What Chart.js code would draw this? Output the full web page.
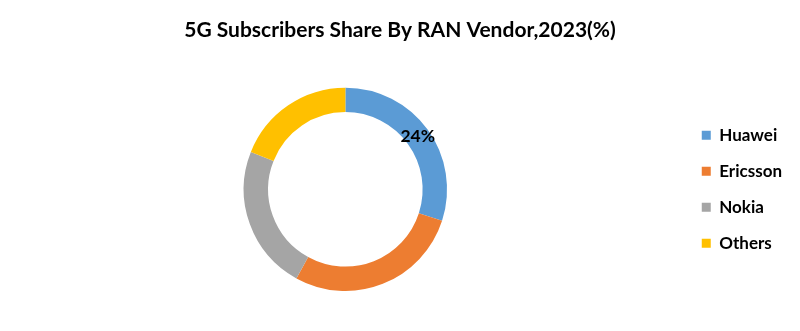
<!DOCTYPE html>
<html>
<head>
<meta charset="utf-8">
<script src="https://cdn.jsdelivr.net/npm/chart.js@4"></script>
<style>
html,body{margin:0;padding:0;background:#fff;}
#wrap{width:800px;height:331px;}
</style>
</head>
<body>
<div id="wrap"><canvas id="c" width="800" height="331"></canvas></div>
<script>
const categories = ["Huawei", "Ericsson", "Nokia", "Others"];
const shares = [30, 28, 23, 19];
const dataLabels = ["24%", "", "", ""];
const colors = ["#5B9BD5", "#ED7D31", "#A5A5A5", "#FFC000"];
const titleText = "5G Subscribers Share By RAN Vendor,2023(%)";
const FONT = "Lato, 'Open Sans', sans-serif";

const labelPlugin = {
  id: 'sliceLabels',
  afterDatasetsDraw(chart) {
    const ctx = chart.ctx;
    const meta = chart.getDatasetMeta(0);
    ctx.save();
    ctx.font = "bold 17.5px " + FONT;
    ctx.fillStyle = "#000";
    ctx.textAlign = "center";
    ctx.textBaseline = "middle";
    meta.data.forEach((arc, i) => {
      if (!dataLabels[i]) return;
      const p = arc.tooltipPosition();
      ctx.fillText(dataLabels[i], p.x, p.y);
    });
    ctx.restore();
  }
};

new Chart(document.getElementById('c'), {
  type: 'doughnut',
  data: {
    labels: categories,
    datasets: [{
      data: shares,
      backgroundColor: colors,
      borderWidth: 0
    }]
  },
  options: {
    responsive: false,
    animation: false,
    cutout: '76%',
    layout: { padding: { top: 0, bottom: 40, left: 8, right: 8 } },
    plugins: {
      title: {
        display: true,
        text: titleText,
        color: '#000',
        font: { family: FONT, size: 21, weight: 'bold' },
        padding: { top: 17.5, bottom: 45 }
      },
      legend: {
        position: 'right',
        fullSize: false,
        labels: {
          boxWidth: 9,
          boxHeight: 9,
          padding: 19,
          color: '#000',
          font: { family: FONT, size: 17, weight: 'bold' }
        }
      },
      tooltip: { enabled: false }
    }
  },
  plugins: [labelPlugin]
});
</script>
</body>
</html>
